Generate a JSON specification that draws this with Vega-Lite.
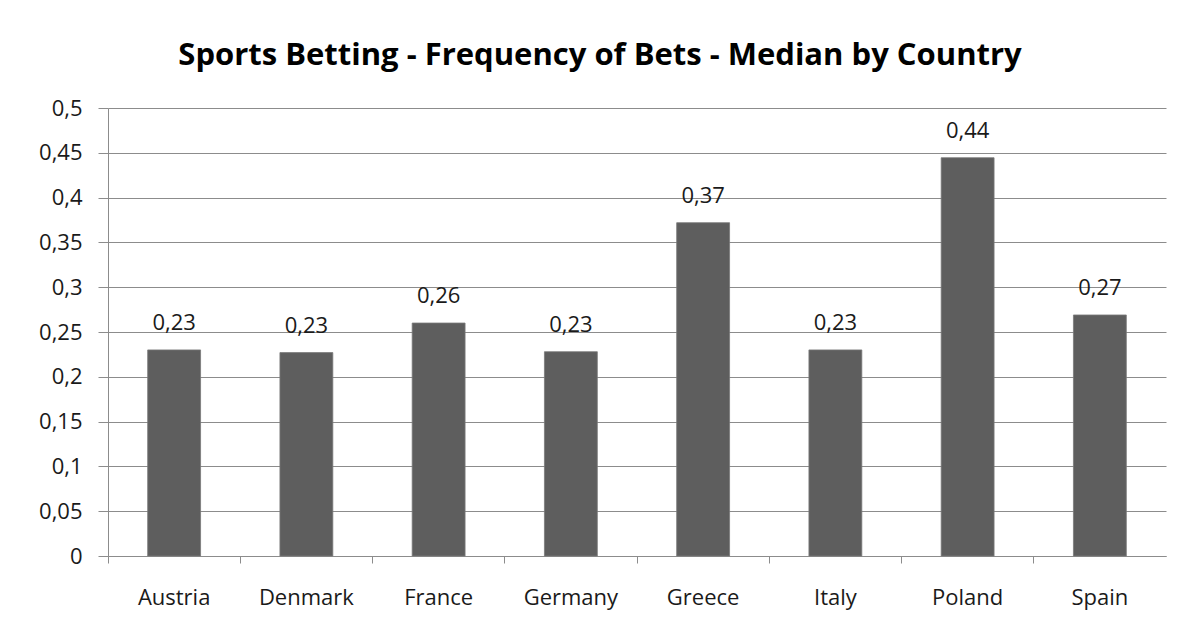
{
  "$schema": "https://vega.github.io/schema/vega-lite/v6.json",
  "width": 1058,
  "height": 448,
  "autosize": {"type": "none"},
  "padding": {"left": 108, "top": 108, "right": 20, "bottom": 79},
  "background": "white",
  "title": {
    "text": "Sports Betting - Frequency of Bets - Median by Country",
    "font": "Open Sans",
    "fontSize": 31,
    "fontWeight": "bold",
    "color": "#000000",
    "anchor": "middle",
    "offset": 25,
    "dx": -37
  },
  "data": {
    "values": [
      {"country": "Austria", "value": 0.23},
      {"country": "Denmark", "value": 0.227},
      {"country": "France", "value": 0.26},
      {"country": "Germany", "value": 0.228},
      {"country": "Greece", "value": 0.372},
      {"country": "Italy", "value": 0.23},
      {"country": "Poland", "value": 0.4445},
      {"country": "Spain", "value": 0.269}
    ]
  },
  "encoding": {
    "x": {
      "field": "country",
      "type": "nominal",
      "sort": null,
      "scale": {"paddingInner": 0, "paddingOuter": 0},
      "axis": {
        "title": null,
        "labelAngle": 0,
        "labelFont": "Open Sans",
        "labelFontSize": 22,
        "labelColor": "#1a1a1a",
        "labelPadding": 24,
        "domainColor": "#8c8c8c",
        "tickColor": "#8c8c8c",
        "tickSize": 7,
        "bandPosition": 0,
        "grid": false
      }
    },
    "y": {
      "field": "value",
      "type": "quantitative",
      "scale": {"domain": [0, 0.5], "nice": false},
      "axis": {
        "title": null,
        "tickCount": 10,
        "format": ".2~f",
        "labelFont": "Open Sans",
        "labelFontSize": 22,
        "labelColor": "#1a1a1a",
        "labelPadding": 16,
        "domainColor": "#8c8c8c",
        "tickColor": "#8c8c8c",
        "tickSize": 10,
        "gridColor": "#8c8c8c",
        "gridWidth": 1
      }
    }
  },
  "layer": [
    {
      "mark": {"type": "bar", "width": {"band": 0.4}, "color": "#5e5e5e", "stroke": "#7a7a7a", "strokeWidth": 0.8}
    },
    {
      "mark": {"type": "text", "baseline": "alphabetic", "dy": -20, "font": "Open Sans", "fontSize": 22, "color": "#1a1a1a"},
      "encoding": {
        "text": {"field": "value", "type": "quantitative", "format": ".2f"}
      }
    }
  ],
  "config": {
    "view": {"stroke": null},
    "locale": {"number": {"decimal": ",", "thousands": ".", "grouping": [3], "currency": ["", " €"]}}
  }
}
